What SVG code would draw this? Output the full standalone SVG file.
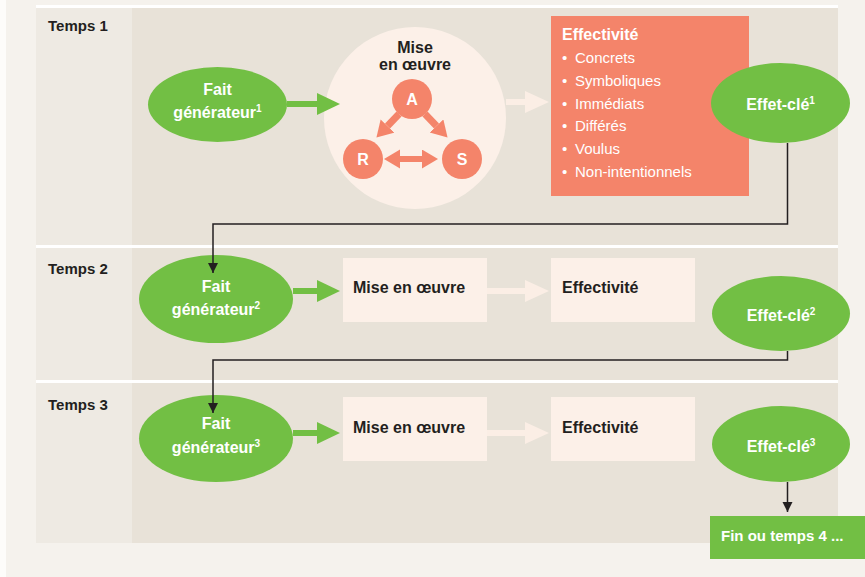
<svg xmlns="http://www.w3.org/2000/svg" width="865" height="577" viewBox="0 0 865 577">
<style>
.lbl{font-family:"Liberation Sans",Arial,sans-serif;font-weight:bold;font-size:15px;fill:#231f20}
.wb{font-family:"Liberation Sans",Arial,sans-serif;font-weight:bold;font-size:16px;fill:#ffffff}
.db{font-family:"Liberation Sans",Arial,sans-serif;font-weight:bold;font-size:16px;fill:#231f20}
.wr{font-family:"Liberation Sans",Arial,sans-serif;font-size:15px;fill:#ffffff}
.sup{font-size:10px}
.green{fill:#72bf44}
.salmon{fill:#f4846a}
.pale{fill:#fcf0e8}
.conn{fill:none;stroke:#231f20;stroke-width:1.5}
.gshaft{stroke:#72bf44;stroke-width:6;fill:none}
.lshaft{stroke:#fbeee5;stroke-width:6;fill:none}
</style>
<defs>
<marker id="gHead" markerUnits="userSpaceOnUse" markerWidth="24" markerHeight="24" refX="0" refY="11" orient="auto"><path d="M0,0 L23,11 L0,22 z" fill="#72bf44"/></marker>
<marker id="lHead" markerUnits="userSpaceOnUse" markerWidth="26" markerHeight="24" refX="0" refY="11" orient="auto"><path d="M0,0 L24,11 L0,22 z" fill="#fbeee5"/></marker>
<marker id="kHead" markerUnits="userSpaceOnUse" markerWidth="12" markerHeight="12" refX="10" refY="5" orient="auto"><path d="M0,0 L10,5 L0,10 z" fill="#231f20"/></marker>
<marker id="sHead" markerUnits="userSpaceOnUse" markerWidth="20" markerHeight="20" refX="0" refY="9.5" orient="auto-start-reverse"><path d="M0,0 L16,9.5 L0,19 z" fill="#f4846a"/></marker>
</defs>

<g id="background">
<rect x="0" y="0" width="865" height="577" fill="#f5f2ed"/>
<rect x="0" y="0" width="6" height="577" fill="#fdfcfa"/>
<rect x="36" y="5" width="802" height="3" fill="#ffffff"/>
<rect x="36" y="8" width="802" height="535" fill="#e8e2d8"/>
<rect x="36" y="8" width="96" height="535" fill="#eeeae3"/>
<rect x="36" y="245" width="802" height="3" fill="#ffffff"/>
<rect x="36" y="380" width="802" height="3" fill="#ffffff"/>
<text class="lbl" x="48" y="31">Temps 1</text>
<text class="lbl" x="48" y="274">Temps 2</text>
<text class="lbl" x="48" y="410">Temps 3</text>
</g>

<g id="fait1">
<ellipse class="green" cx="217.5" cy="104.5" rx="69.5" ry="37.5"/>
<text class="wb" x="217.5" y="95" text-anchor="middle">Fait</text>
<text class="wb" x="217.5" y="118" text-anchor="middle">générateur<tspan class="sup" dy="-6">1</tspan></text>
</g>

<g id="mise1">
<circle class="pale" cx="415" cy="118" r="91"/>
<text class="db" x="415" y="53" text-anchor="middle">Mise</text>
<text class="db" x="415" y="70" text-anchor="middle">en œuvre</text>
<line stroke="#f4846a" stroke-width="7" x1="399" y1="114" x2="387.5" y2="126" marker-end="url(#sHead)"/>
<line stroke="#f4846a" stroke-width="7" x1="425" y1="114" x2="436.5" y2="126" marker-end="url(#sHead)"/>
<line stroke="#f4846a" stroke-width="6" x1="400" y1="159" x2="422" y2="159" marker-start="url(#sHead)" marker-end="url(#sHead)"/>
<g id="nodeA"><circle class="salmon" cx="412" cy="99" r="20"/><text class="wb" x="412" y="105" text-anchor="middle">A</text></g>
<g id="nodeR"><circle class="salmon" cx="363" cy="159" r="20"/><text class="wb" x="363" y="165" text-anchor="middle">R</text></g>
<g id="nodeS"><circle class="salmon" cx="462" cy="159" r="20"/><text class="wb" x="462" y="165" text-anchor="middle">S</text></g>
</g>

<g id="effectivite1">
<rect class="salmon" x="551" y="16" width="198" height="180"/>
<text class="wb" x="562" y="40">Effectivité</text>
<text class="wr" x="562" y="63">•<tspan x="575">Concrets</tspan></text>
<text class="wr" x="562" y="86">•<tspan x="575">Symboliques</tspan></text>
<text class="wr" x="562" y="109">•<tspan x="575">Immédiats</tspan></text>
<text class="wr" x="562" y="131">•<tspan x="575">Différés</tspan></text>
<text class="wr" x="562" y="154">•<tspan x="575">Voulus</tspan></text>
<text class="wr" x="562" y="177">•<tspan x="575">Non-intentionnels</tspan></text>
</g>

<g id="effet1">
<ellipse class="green" cx="780.5" cy="103" rx="69.5" ry="40"/>
<text class="wb" x="780.5" y="110" text-anchor="middle">Effet-clé<tspan class="sup" dy="-6">1</tspan></text>
</g>

<g id="fait2">
<ellipse class="green" cx="216" cy="299" rx="77" ry="44"/>
<text class="wb" x="216" y="292" text-anchor="middle">Fait</text>
<text class="wb" x="216" y="315" text-anchor="middle">générateur<tspan class="sup" dy="-6">2</tspan></text>
</g>
<g id="mise2">
<rect class="pale" x="343" y="258" width="144" height="64"/>
<text class="db" x="353" y="293">Mise en œuvre</text>
</g>
<g id="effectivite2">
<rect class="pale" x="551" y="258" width="144" height="64"/>
<text class="db" x="562" y="293">Effectivité</text>
</g>
<g id="effet2">
<ellipse class="green" cx="781" cy="313.5" rx="69" ry="37.5"/>
<text class="wb" x="781" y="321" text-anchor="middle">Effet-clé<tspan class="sup" dy="-6">2</tspan></text>
</g>

<g id="fait3">
<ellipse class="green" cx="216" cy="438.5" rx="77" ry="43.5"/>
<text class="wb" x="216" y="429" text-anchor="middle">Fait</text>
<text class="wb" x="216" y="453" text-anchor="middle">générateur<tspan class="sup" dy="-6">3</tspan></text>
</g>
<g id="mise3">
<rect class="pale" x="343" y="397" width="144" height="64"/>
<text class="db" x="353" y="433">Mise en œuvre</text>
</g>
<g id="effectivite3">
<rect class="pale" x="551" y="397" width="144" height="64"/>
<text class="db" x="562" y="433">Effectivité</text>
</g>
<g id="effet3">
<ellipse class="green" cx="781" cy="444" rx="69" ry="38"/>
<text class="wb" x="781" y="452" text-anchor="middle">Effet-clé<tspan class="sup" dy="-6">3</tspan></text>
</g>

<g id="fin">
<rect class="green" x="710" y="516" width="155" height="43"/>
<text class="wb" x="721" y="541" style="font-size:15px">Fin ou temps 4 ...</text>
</g>

<g id="connectors">
<line class="gshaft" x1="287" y1="104" x2="317" y2="104" marker-end="url(#gHead)"/>
<line class="lshaft" x1="506" y1="102" x2="525" y2="102" marker-end="url(#lHead)"/>
<line class="gshaft" x1="293" y1="291" x2="317" y2="291" marker-end="url(#gHead)"/>
<line class="lshaft" x1="487" y1="291" x2="525" y2="291" marker-end="url(#lHead)"/>
<line class="gshaft" x1="293" y1="433" x2="317" y2="433" marker-end="url(#gHead)"/>
<line class="lshaft" x1="487" y1="433" x2="525" y2="433" marker-end="url(#lHead)"/>
<polyline class="conn" points="787.5,143 787.5,224 213,224 213,273" marker-end="url(#kHead)"/>
<polyline class="conn" points="787.5,351 787.5,360 213,360 213,413" marker-end="url(#kHead)"/>
<line class="conn" x1="787.5" y1="482" x2="787.5" y2="512" marker-end="url(#kHead)"/>
</g>
</svg>
